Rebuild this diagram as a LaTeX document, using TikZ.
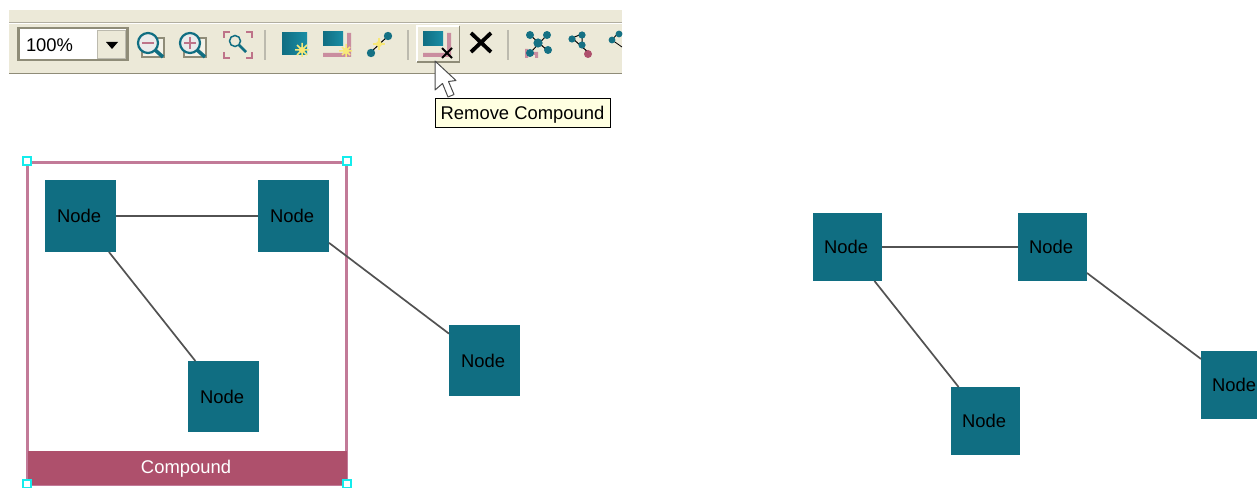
\documentclass[tikz,border=0pt]{standalone}
\usepackage{fontspec}
\setmainfont{Liberation Sans}
\definecolor{nodeteal}{HTML}{106E82}
\definecolor{lightteal}{HTML}{1A8DA5}
\definecolor{compoundrose}{HTML}{AE506C}
\definecolor{framerose}{HTML}{C27A98}
\definecolor{barbeige}{HTML}{ECE9D8}
\definecolor{bargray}{HTML}{8F8C78}
\definecolor{tipyellow}{HTML}{FFFFE1}
\definecolor{sparkyellow}{HTML}{F8E878}
\definecolor{handlecyan}{HTML}{14ECEC}
\tikzstyle{every node}=[inner sep=0pt,outer sep=0pt,font=\fontsize{18.4}{20}\selectfont]
\tikzstyle{graphnode}=[fill=nodeteal,minimum width=71,minimum height=71]
\tikzstyle{copynode}=[fill=nodeteal,minimum width=69,minimum height=68]
\tikzstyle{handle}=[draw=handlecyan,fill=white,line width=1.6,minimum size=8]
\tikzstyle{edge}=[line width=1.7,draw=black!68]
\tikzstyle{sepline}=[line width=1.4,draw=bargray!60]
\tikzstyle{lens}=[draw=nodeteal,line width=2.2,fill=white!92!black]
\tikzstyle{iconsquare}=[left color=nodeteal,right color=lightteal]
\tikzstyle{iconell}=[fill=compoundrose!65]
\tikzstyle{spark}=[draw=sparkyellow,line width=1.5]
\tikzstyle{dot}=[fill=lightteal!80!black]

\begin{document}
\begin{tikzpicture}[x=1pt,y=-1pt]
  \useasboundingbox (0,0) rectangle (1257,487);
  \clip (0,0) rectangle (1257,487);
  \fill[white] (0,0) rectangle (1257,487);

  % toolbar
  \fill[barbeige] (9,10) rectangle (622,73);
  \draw[white,line width=1.4] (9,23.5) -- (622,23.5);
  \draw[bargray!70,line width=.9] (9,22) -- (622,22);
  \draw[bargray,line width=1.8] (9,73.5) -- (622,73.5);
  \node[draw=bargray,line width=2.2,fill=white,minimum width=109,minimum height=32,anchor=north west] (zoombox) at (18.5,28) {};
  \node[anchor=west] (zoomtext) at (26,45.5) {100\%};
  \node[fill=barbeige,draw=bargray!60,line width=.8,minimum width=28,minimum height=28,anchor=north west] (zoombtn) at (97.5,30.5) {};
  \fill (106,42) -- (118,42) -- (112,49) -- cycle;

  % zoom icons
  \foreach \cx in {148,190} {
    \draw[draw=bargray,line width=1.2,fill=barbeige!60] (\cx-6,38) rectangle (\cx+16,57);
    \draw[nodeteal,line width=3.6] (\cx+6,49) -- (\cx+15,57);
    \draw[lens] (\cx,43) circle (10);
  }
  \draw[compoundrose!80,line width=2.8] (142,43) -- (154,43);
  \draw[compoundrose!80,line width=2.8] (184,43) -- (196,43) (190,37) -- (190,49);
  \draw[compoundrose!80,line width=1.4] (224,38) -- (224,32) -- (230,32) (246,32) -- (252,32) -- (252,38)
    (224,52) -- (224,58) -- (230,58) (246,58) -- (252,58) -- (252,52);
  \draw[nodeteal,line width=1.5] (235,41) circle (5.5);
  \draw[nodeteal,line width=2.8] (239,45) -- (246,52);
  \foreach \sx in {265,408,508}
    \draw[sepline] (\sx,30) -- (\sx,60);
  \shade[iconsquare] (282,33) rectangle (307,55);
  \fill[sparkyellow] (302,50) circle (3);
  \draw[spark] (295,50) -- (309,50) (302,43) -- (302,57) (297,45) -- (307,55) (307,45) -- (297,55);

  % compound icons
  \fill[iconell] (347,33) -- (351,33) -- (351,57) -- (323,57) -- (323,53) -- (347,53) -- cycle;
  \shade[iconsquare] (323,32) rectangle (343,46);
  \fill[sparkyellow] (346,51) circle (3);
  \draw[spark] (339,51) -- (352,51) (346,44) -- (346,57) (342,47) -- (350,55) (350,47) -- (342,55);
  \draw[black,line width=1] (371,52) -- (388,36);
  \fill[sparkyellow] (379,44) circle (3);
  \draw[spark] (373,44) -- (385,44) (379,38) -- (379,50);
  \fill[dot] (371,53) circle (4.2) (388,36) circle (4.2);

  % raised button
  \draw[white,line width=1.4] (417,62) -- (417,26) -- (459,26);
  \draw[bargray,line width=1] (417,62) -- (459,62) -- (459,26);
  \fill[iconell] (447,33) -- (451,33) -- (451,57) -- (423,57) -- (423,53) -- (447,53) -- cycle;
  \shade[iconsquare] (423,32) rectangle (443,46);
  \draw[black,line width=2] (442,48) -- (452,58) (452,48) -- (442,58);
  \draw[black,line width=3.8] (471,33) -- (491,52) (491,33) -- (471,52);

  % layout icons
  \fill[iconell] (525,49) rectangle (528,58) (525,52) rectangle (538,55) (535,52) rectangle (538,58);
  \draw[black,line width=1] (530,35) -- (548,51) (547,35) -- (530,53);
  \fill[dot] (530,35) circle (4) (547,35) circle (4) (538,43) circle (4.6) (548,50) circle (4) (530,53) circle (4);
  \draw[black,line width=1] (572,38) -- (589,53) (572,38) -- (582,34) -- (582,46);
  \fill[dot] (572,39) circle (3.6) (582,35) circle (3.6) (582,45) circle (3.6);
  \fill[compoundrose] (588,54) circle (4);
  \draw[black,line width=.8] (612,40) -- (618,33) -- (622,33) (612,40) -- (622,47);
  \fill[dot] (612,40) circle (3.4) (619,34) circle (3.4);

  % pointer and tooltip
  \draw[fill=white,draw=black!70,line width=1,line join=round] (435,61) -- (435,90) -- (442.5,83.5) -- (448,97)
    -- (454,94.5) -- (448.5,81.5) -- (456,80.5) -- cycle;
  \node[draw=black,line width=1.2,fill=tipyellow,minimum width=175,minimum height=29,anchor=north west] (tooltip) at (435.5,98.5) {};
  \node (tiptext) at (522.5,115) {Remove Compound};

  % compound graph
  \node[draw=framerose,line width=2.05,minimum width=319,minimum height=322,anchor=north west] (compound) at (27.5,162.5) {};
  \node[fill=compoundrose,minimum width=319,minimum height=34,anchor=north west] (compoundbar) at (27.5,450.5) {};
  \node[text=white] (compoundlabel) at (186,469) {Compound};
  \foreach \hx/\hy/\hname in {27/161/hnw,347/161/hne,27/484/hsw,347/484/hse}
    \node[handle] (\hname) at (\hx,\hy) {};

  \node[graphnode,minimum height=72] (left1) at (80.5,216) {\hspace*{-3pt}Node};
  \node[graphnode,minimum height=72] (left2) at (293.5,216) {\hspace*{-3pt}Node};
  \node[graphnode] (left3) at (223.5,396.5) {\hspace*{-3pt}Node};
  \node[graphnode] (left4) at (484.5,360.5) {\hspace*{-3pt}Node};
  \draw[edge] (left1) -- (left2);
  \draw[edge] (left1) -- (left3);
  \draw[edge] (left2) -- (left4);

  % graph after removal
  \node[copynode] (right1) at (847.5,247) {\hspace*{-3pt}Node};
  \node[copynode] (right2) at (1052.5,247) {\hspace*{-3pt}Node};
  \node[copynode] (right3) at (985.5,421) {\hspace*{-3pt}Node};
  \node[copynode] (right4) at (1235.5,385) {\hspace*{-3pt}Node};
  \draw[edge] (right1) -- (right2);
  \draw[edge] (right1) -- (right3);
  \draw[edge] (right2) -- (right4);
\end{tikzpicture}
\end{document}
